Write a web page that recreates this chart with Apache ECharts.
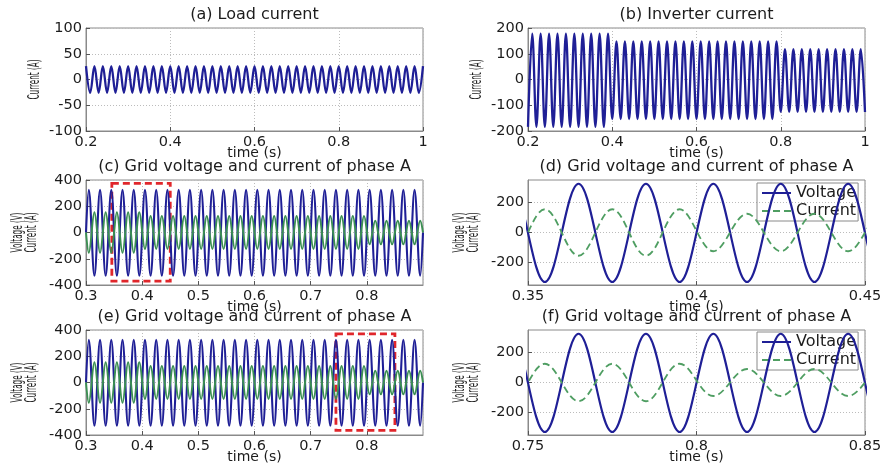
<!DOCTYPE html>
<html>
<head>
<meta charset="utf-8">
<script src="https://cdn.jsdelivr.net/npm/echarts@6/dist/echarts.min.js"></script>
<style>
  html, body { margin: 0; padding: 0; background: #fff; }
  #chart { width: 886px; height: 464px; }
</style>
</head>
<body>
<div id="chart"></div>
<script>
// Half-cycle extremes of the 50 Hz waveforms, sampled at their peak times (s).
const timeAB = [
  0.2, 0.21, 0.22, 0.23, 0.24, 0.25, 0.26, 0.27, 0.28, 0.29,
  0.3, 0.31, 0.32, 0.33, 0.34, 0.35, 0.36, 0.37, 0.38, 0.39,
  0.4, 0.41, 0.42, 0.43, 0.44, 0.45, 0.46, 0.47, 0.48, 0.49,
  0.5, 0.51, 0.52, 0.53, 0.54, 0.55, 0.56, 0.57, 0.58, 0.59,
  0.6, 0.61, 0.62, 0.63, 0.64, 0.65, 0.66, 0.67, 0.68, 0.69,
  0.7, 0.71, 0.72, 0.73, 0.74, 0.75, 0.76, 0.77, 0.78, 0.79,
  0.8, 0.81, 0.82, 0.83, 0.84, 0.85, 0.86, 0.87, 0.88, 0.89,
  0.9, 0.91, 0.92, 0.93, 0.94, 0.95, 0.96, 0.97, 0.98, 0.99,
  1.0
];

// Load current (A)
const loadCurrent = [
  26, -26, 26, -26, 26, -26, 26, -26, 26, -26,
  26, -26, 26, -26, 26, -26, 26, -26, 26, -26,
  26, -26, 26, -26, 26, -26, 26, -26, 26, -26,
  26, -26, 26, -26, 26, -26, 26, -26, 26, -26,
  26, -26, 26, -26, 26, -26, 26, -26, 26, -26,
  26, -26, 26, -26, 26, -26, 26, -26, 26, -26,
  26, -26, 26, -26, 26, -26, 26, -26, 26, -26,
  26, -26, 26, -26, 26, -26, 26, -26, 26, -26,
  26
];

// Inverter current (A): output steps down at 0.4 s and 0.8 s
const inverterCurrent = [
  -184, 178, -184, 178, -184, 178, -184, 178, -184, 178,
  -184, 178, -184, 178, -184, 178, -184, 178, -184, 178,
  -154, 148, -154, 148, -154, 148, -154, 148, -154, 148,
  -154, 148, -154, 148, -154, 148, -154, 148, -154, 148,
  -154, 148, -154, 148, -154, 148, -154, 148, -154, 148,
  -154, 148, -154, 148, -154, 148, -154, 148, -154, 148,
  -126, 118, -126, 118, -126, 118, -126, 118, -126, 118,
  -126, 118, -126, 118, -126, 118, -126, 118, -126, 118,
  -126
];

// Grid phase A, 0.3 s to 0.9 s
const timeGrid = [
  0.3,
  0.305, 0.315, 0.325, 0.335, 0.345, 0.355, 0.365, 0.375, 0.385, 0.395,
  0.405, 0.415, 0.425, 0.435, 0.445, 0.455, 0.465, 0.475, 0.485, 0.495,
  0.505, 0.515, 0.525, 0.535, 0.545, 0.555, 0.565, 0.575, 0.585, 0.595,
  0.605, 0.615, 0.625, 0.635, 0.645, 0.655, 0.665, 0.675, 0.685, 0.695,
  0.705, 0.715, 0.725, 0.735, 0.745, 0.755, 0.765, 0.775, 0.785, 0.795,
  0.805, 0.815, 0.825, 0.835, 0.845, 0.855, 0.865, 0.875, 0.885, 0.895,
  0.9
];

// Grid voltage (V)
const gridVoltage = [
  0,
  325, -330, 325, -330, 325, -330, 325, -330, 325, -330,
  325, -330, 325, -330, 325, -330, 325, -330, 325, -330,
  325, -330, 325, -330, 325, -330, 325, -330, 325, -330,
  325, -330, 325, -330, 325, -330, 325, -330, 325, -330,
  325, -330, 325, -330, 325, -330, 325, -330, 325, -330,
  325, -330, 325, -330, 325, -330, 325, -330, 325, -330,
  0
];

// Grid current (A), in antiphase with the voltage
const gridCurrent = [
  0,
  -155, 155, -155, 155, -155, 155, -155, 155, -155, 155,
  -125, 125, -125, 125, -125, 125, -125, 125, -125, 125,
  -125, 125, -125, 125, -125, 125, -125, 125, -125, 125,
  -125, 125, -125, 125, -125, 125, -125, 125, -125, 125,
  -125, 125, -125, 125, -125, 125, -125, 125, -125, 125,
  -90, 90, -90, 90, -90, 90, -90, 90, -90, 90,
  0
];

const panelTitles = [
  '(a) Load current',
  '(b) Inverter current',
  '(c) Grid voltage and current of phase A',
  '(d) Grid voltage and current of phase A',
  '(e) Grid voltage and current of phase A',
  '(f) Grid voltage and current of phase A'
];
const yNames = [
  ['Current (A)'],
  ['Current (A)'],
  ['Voltage (V)', 'Current (A)'],
  ['Voltage (V)', 'Current (A)'],
  ['Voltage (V)', 'Current (A)'],
  ['Voltage (V)', 'Current (A)']
];
const legendNames = ['Voltage', 'Current'];

// Axis ranges: [min, max, interval]
const xRanges = [[0.2, 1, 0.2], [0.2, 1, 0.2], [0.3, 0.9, 0.1], [0.35, 0.45, 0.05], [0.3, 0.9, 0.1], [0.75, 0.85, 0.05]];
const yRanges = [[-100, 100, 50], [-200, 200, 100], [-400, 400, 200], [-350, 350, null], [-400, 400, 200], [-350, 350, null]];
const zoomTicks = [-200, 0, 200];

// Zoomed windows marked on the long records: [time, value] corners
const zoomWindowC = [[0.346, 375], [0.45, -370]];
const zoomWindowE = [[0.745, 370], [0.85, -365]];

const FONT = 'DejaVu Sans';
const TXT = '#1c1c1c';
const BLUE = '#1f1f96';
const GREEN = '#3b8f52';
const GREEN_LIGHT = '#4f9e62';
const FRAME = '#8a8a8a';

const grids = [
  { left: 86, top: 28, width: 337, height: 103 },
  { left: 528, top: 28, width: 337, height: 103 },
  { left: 86, top: 180, width: 337, height: 105 },
  { left: 528, top: 180, width: 337, height: 105 },
  { left: 86, top: 330, width: 337, height: 105 },
  { left: 528, top: 330, width: 337, height: 105 }
];

const gridOpts = grids.map(g => Object.assign({
  show: true, borderColor: FRAME, borderWidth: 1, backgroundColor: '#fff',
  containLabel: false, outerBoundsMode: 'none'
}, g));

const splitStyle = { show: true, lineStyle: { color: '#bcbcbc', type: [1, 2], width: 1 } };

const xAxes = xRanges.map((r, i) => ({
  type: 'value', gridIndex: i, min: r[0], max: r[1], interval: r[2],
  name: 'time (s)', nameLocation: 'middle', nameGap: 15, nameMoveOverlap: false,
  nameTextStyle: { fontFamily: FONT, fontSize: 14, color: TXT },
  axisLine: { show: true, onZero: false, lineStyle: { color: FRAME } },
  axisTick: { show: true, inside: true, length: 4, lineStyle: { color: '#555' } },
  axisLabel: {
    fontFamily: FONT, fontSize: 14.5, color: TXT, margin: 4,
    showMinLabel: true, showMaxLabel: r[1] !== 0.9
  },
  splitLine: splitStyle
}));

const yAxes = yRanges.map((r, i) => {
  const ax = {
    type: 'value', gridIndex: i, min: r[0], max: r[1],
    axisLine: { show: true, onZero: false, lineStyle: { color: FRAME } },
    axisTick: { show: true, inside: true, length: 4, lineStyle: { color: '#555' } },
    axisLabel: { fontFamily: FONT, fontSize: 14.5, color: TXT, margin: 4, showMinLabel: true, showMaxLabel: true },
    splitLine: splitStyle
  };
  if (r[2] !== null) {
    ax.interval = r[2];
  } else {
    ax.axisTick.customValues = zoomTicks;
    ax.axisLabel.customValues = zoomTicks;
  }
  return ax;
});

function pairs(times, vals) {
  return times.map((t, k) => [t, vals[k]]);
}

function wave(name, idx, times, vals, color, width, dashed) {
  return {
    type: 'line', name: name, xAxisIndex: idx, yAxisIndex: idx,
    data: pairs(times, vals),
    symbol: 'none', showSymbol: false, smooth: 0.364, clip: true, silent: true,
    lineStyle: { color: color, width: width, type: dashed ? [7, 4] : 'solid' },
    itemStyle: { color: color },
    emphasis: { disabled: true }
  };
}

function windowBox(corners) {
  return {
    silent: true,
    itemStyle: { color: 'rgba(0,0,0,0)', borderColor: '#e0262b', borderWidth: 2.8, borderType: [7, 4] },
    label: { show: false },
    data: [[
      { xAxis: corners[0][0], yAxis: corners[0][1] },
      { xAxis: corners[1][0], yAxis: corners[1][1] }
    ]]
  };
}

const seriesC = wave('Grid current c', 2, timeGrid, gridCurrent, GREEN, 2, false);
seriesC.markArea = windowBox(zoomWindowC);
const seriesE = wave('Grid current e', 4, timeGrid, gridCurrent, GREEN, 2, false);
seriesE.markArea = windowBox(zoomWindowE);

const series = [
  wave('Voltage', 3, timeGrid, gridVoltage, BLUE, 2.2, false),
  wave('Current', 3, timeGrid, gridCurrent, GREEN_LIGHT, 1.8, true),
  wave('Voltage', 5, timeGrid, gridVoltage, BLUE, 2.2, false),
  wave('Current', 5, timeGrid, gridCurrent, GREEN_LIGHT, 1.8, true),
  wave('Load current', 0, timeAB, loadCurrent, BLUE, 2.3, false),
  wave('Inverter current', 1, timeAB, inverterCurrent, BLUE, 2.3, false),
  wave('Grid voltage c', 2, timeGrid, gridVoltage, BLUE, 2.1, false),
  seriesC,
  wave('Grid voltage e', 4, timeGrid, gridVoltage, BLUE, 2.1, false),
  seriesE
];

// Panel titles and compact rotated y-axis names
const graphics = [];
panelTitles.forEach((t, i) => {
  const g = grids[i];
  graphics.push({
    type: 'text', x: g.left + g.width / 2, y: g.top - 13, silent: true,
    style: { text: t, font: '16px "' + FONT + '"', fill: TXT, align: 'center', verticalAlign: 'middle' }
  });
});
yNames.forEach((names, i) => {
  const g = grids[i];
  const offsets = names.length === 1 ? [51] : [68, 54];
  names.forEach((n, j) => {
    graphics.push({
      type: 'text', x: g.left - offsets[j], y: g.top + g.height / 2,
      rotation: Math.PI / 2, scaleX: 0.45, silent: true,
      style: { text: n, font: '16px "' + FONT + '"', fill: TXT, align: 'center', verticalAlign: 'middle' }
    });
  });
});

function legendAt(top) {
  return {
    data: legendNames, orient: 'vertical', left: 757, top: top, z: 1,
    backgroundColor: 'rgba(255,255,255,0)', borderColor: FRAME, borderWidth: 1,
    padding: [2, 2, 2, 4], itemWidth: 29, itemHeight: 12, itemGap: 2,
    selectedMode: false,
    itemStyle: { opacity: 0 },
    textStyle: { fontFamily: FONT, fontSize: 16, color: TXT, lineHeight: 14 }
  };
}

const chart = echarts.init(document.getElementById('chart'), null, { renderer: 'canvas' });
chart.setOption({
  animation: false,
  backgroundColor: '#fff',
  grid: gridOpts,
  xAxis: xAxes,
  yAxis: yAxes,
  legend: [legendAt(183), legendAt(332)],
  series: series,
  graphic: graphics
});
</script>
</body>
</html>
